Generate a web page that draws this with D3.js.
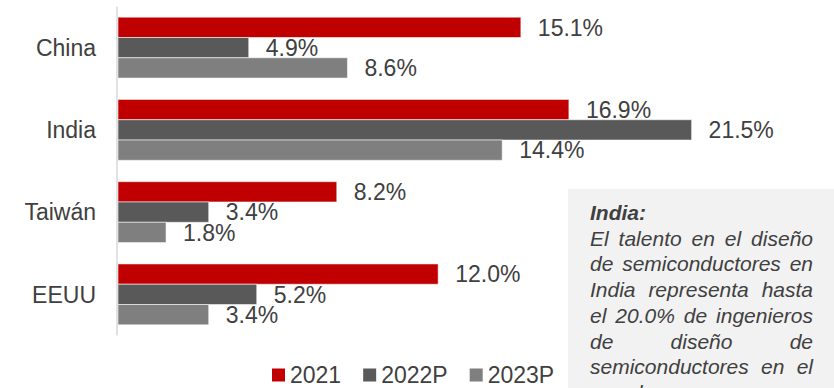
<!DOCTYPE html>
<html>
<head>
<meta charset="utf-8">
<script src="https://cdn.jsdelivr.net/npm/d3@7"></script>
<style>
  html, body { margin: 0; padding: 0; background: #ffffff; }
  svg { display: block; font-family: "Liberation Sans", Arial, sans-serif; }
</style>
</head>
<body>
<svg id="chart" width="834" height="388"></svg>
<script>
// Regions and series (percent share)
const regions = ["China", "India", "Taiwán", "EEUU"];
const seriesNames = ["2021", "2022P", "2023P"];
const values2021 = [15.1, 16.9, 8.2, 12.0];
const values2022P = [4.9, 21.5, 3.4, 5.2];
const values2023P = [8.6, 14.4, 1.8, 3.4];
const seriesColors = ["#C00000", "#595959", "#7F7F7F"];

// Side note text, one entry per line
const noteTitle = "India:";
const noteLines = [
  "El talento en el diseño",
  "de semiconductores en",
  "India representa hasta",
  "el 20.0% de ingenieros",
  "de diseño de",
  "semiconductores en el",
  "mundo."
];

const seriesValues = [values2021, values2022P, values2023P];
const rows = regions.map((r, i) => ({
  region: r,
  vals: seriesNames.map((s, k) => ({ series: s, k, value: seriesValues[k][i] }))
}));

const svg = d3.select("#chart");
const textColor = "#404040";

const x = d3.scaleLinear().domain([0, 25]).range([118, 785]);
const y = d3.scaleBand().domain(regions).range([6.5, 335.5]).paddingInner(0.26).paddingOuter(0.13);
const ySub = d3.scaleBand().domain(seriesNames).range([0, y.bandwidth()]);

// Bars
const groups = svg.append("g").selectAll("g").data(rows).join("g")
  .attr("transform", d => `translate(0,${y(d.region)})`);

groups.selectAll("rect").data(d => d.vals).join("rect")
  .attr("x", x(0))
  .attr("y", d => ySub(d.series))
  .attr("width", d => x(d.value) - x(0))
  .attr("height", ySub.bandwidth())
  .attr("fill", d => seriesColors[d.k])
  .attr("stroke", "rgba(255,255,255,0.55)")
  .attr("stroke-width", 1);

// Value labels
groups.selectAll("text.val").data(d => d.vals).join("text")
  .attr("class", "val")
  .attr("x", d => x(d.value) + 17)
  .attr("y", d => ySub(d.series) + ySub.bandwidth() / 2)
  .attr("dy", "0.36em")
  .attr("font-size", 23)
  .attr("fill", textColor)
  .text(d => d.value.toFixed(1) + "%");

// Category axis
const yAxis = d3.axisLeft(y).tickSize(0).tickPadding(21);
const axisG = svg.append("g").attr("transform", `translate(${x(0) - 1},0)`).call(yAxis);
axisG.select(".domain").attr("stroke", "#D9D9D9").attr("stroke-width", 1.5)
  .attr("d", `M0,${y.range()[0]}V${y.range()[1]}`);
axisG.selectAll(".tick text")
  .attr("font-size", 23)
  .attr("font-family", "Liberation Sans, Arial, sans-serif")
  .attr("fill", textColor)
  .attr("dy", "0.36em");

// Legend
const legend = svg.append("g").attr("transform", "translate(272,375)");
let lx = 0;
seriesNames.forEach((s, k) => {
  legend.append("rect").attr("x", lx).attr("y", -6.5).attr("width", 13).attr("height", 13)
    .attr("fill", seriesColors[k]);
  const t = legend.append("text").attr("x", lx + 18).attr("y", 0).attr("dy", "0.36em")
    .attr("font-size", 23).attr("fill", textColor).text(s);
  lx += 18 + t.node().getComputedTextLength() + 22;
});

// Side note box with justified italic text
const boxX = 568, boxY = 189;
svg.append("rect").attr("x", boxX).attr("y", boxY).attr("width", 834 - boxX).attr("height", 388 - boxY)
  .attr("fill", "#F2F2F2");

const noteLeft = 590, noteRight = 813, lineH = 25.7, firstBase = 220;
svg.append("text").attr("x", noteLeft).attr("y", firstBase)
  .attr("font-size", 21).attr("font-style", "italic").attr("font-weight", "bold")
  .attr("fill", textColor).text(noteTitle);

noteLines.forEach((line, i) => {
  const words = line.split(" ");
  const t = svg.append("text").attr("y", firstBase + lineH * (i + 1))
    .attr("font-size", 21).attr("font-style", "italic").attr("fill", textColor);
  const spans = words.map(w => t.append("tspan").text(w));
  const widths = spans.map(sp => sp.node().getComputedTextLength());
  const isLast = i === noteLines.length - 1;
  const total = d3.sum(widths);
  const gap = (!isLast && words.length > 1) ? (noteRight - noteLeft - total) / (words.length - 1) : 5.8;
  let cx = noteLeft;
  spans.forEach((sp, j) => {
    sp.attr("x", cx);
    cx += widths[j] + gap;
  });
});
</script>
</body>
</html>
